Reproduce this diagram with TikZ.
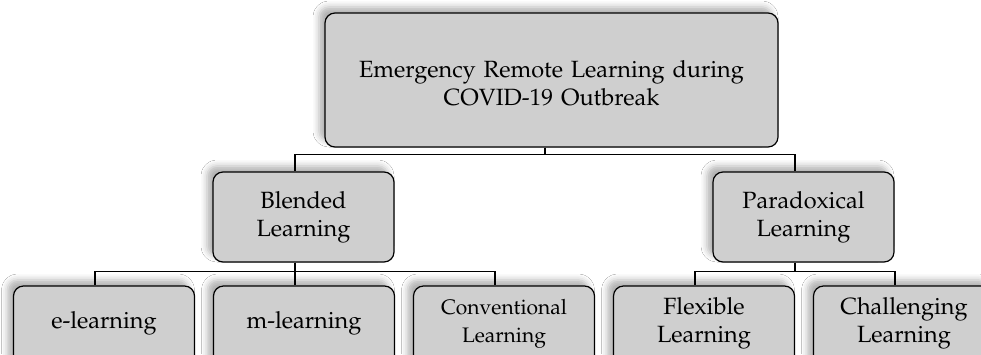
\documentclass[tikz,border=0pt]{standalone}
\usepackage[T1]{fontenc}
\usepackage{mathpazo}
\usetikzlibrary{shadows.blur}
\definecolor{boxfill}{RGB}{207,207,207}
\newcommand{\shifttext}[2]{\raisebox{#1}[\height][\depth]{\begin{tabular}{@{}c@{}}#2\end{tabular}}}
\tikzset{
  box/.style={draw=black, line width=1.2pt, rounded corners=10pt, fill=boxfill,
    minimum width=181pt, minimum height=90pt, align=center, inner sep=2pt,
    text width=176pt,
    font=\fontsize{23.5}{28}\selectfont,
    blur shadow={shadow xshift=-6pt, shadow yshift=6pt, shadow blur radius=6pt, shadow opacity=30}},
  topbox/.style={box, minimum width=453pt, minimum height=134pt, text width=440pt},
  small/.style={font=\fontsize{21}{28}\selectfont},
  conn/.style={draw=black, line width=1.3pt}
}
\begin{document}
\begin{tikzpicture}[x=1pt,y=-1pt]
\useasboundingbox (0,0) rectangle (981,354);
\clip (0,0) rectangle (981,354);
\fill[white] (0,0) rectangle (981,354);
% nodes
\node[topbox] (top) at (551.5,80) {\shifttext{-6pt}{Emergency Remote Learning during\\COVID-19 Outbreak}};
\node[box] (bl) at (303.5,217) {Blended\\Learning};
\node[box] (pd) at (803.5,217) {Paradoxical\\Learning};
\node[box] (el) at (104,331) {\shifttext{8pt}{e-learning}};
\node[box] (ml) at (304,331) {\shifttext{8pt}{m-learning}};
\node[box,small] (cl) at (504,331) {\shifttext{8pt}{Conventional\\Learning}};
\node[box] (fl) at (704,331) {\shifttext{8pt}{Flexible\\Learning}};
\node[box] (ch) at (904,331) {\shifttext{8pt}{Challenging\\Learning}};
% connectors
\draw[conn] ([xshift=-6.5pt]top.south) -- ++(0,7) -| ([xshift=-8.5pt]bl.north);
\draw[conn] ([xshift=-6.5pt]top.south) -- ++(0,7) -| ([xshift=-8.5pt]pd.north);
\draw[conn] ([xshift=-8.5pt]bl.south) -- ++(0,9) -| ([xshift=-9pt]el.north);
\draw[conn] ([xshift=-8.5pt]bl.south) -- ([xshift=-9pt]ml.north);
\draw[conn] ([xshift=-8.5pt]bl.south) -- ++(0,9) -| ([xshift=-9pt]cl.north);
\draw[conn] ([xshift=-8.5pt]pd.south) -- ++(0,9) -| ([xshift=-9pt]fl.north);
\draw[conn] ([xshift=-8.5pt]pd.south) -- ++(0,9) -| ([xshift=-9pt]ch.north);
\end{tikzpicture}
\end{document}
